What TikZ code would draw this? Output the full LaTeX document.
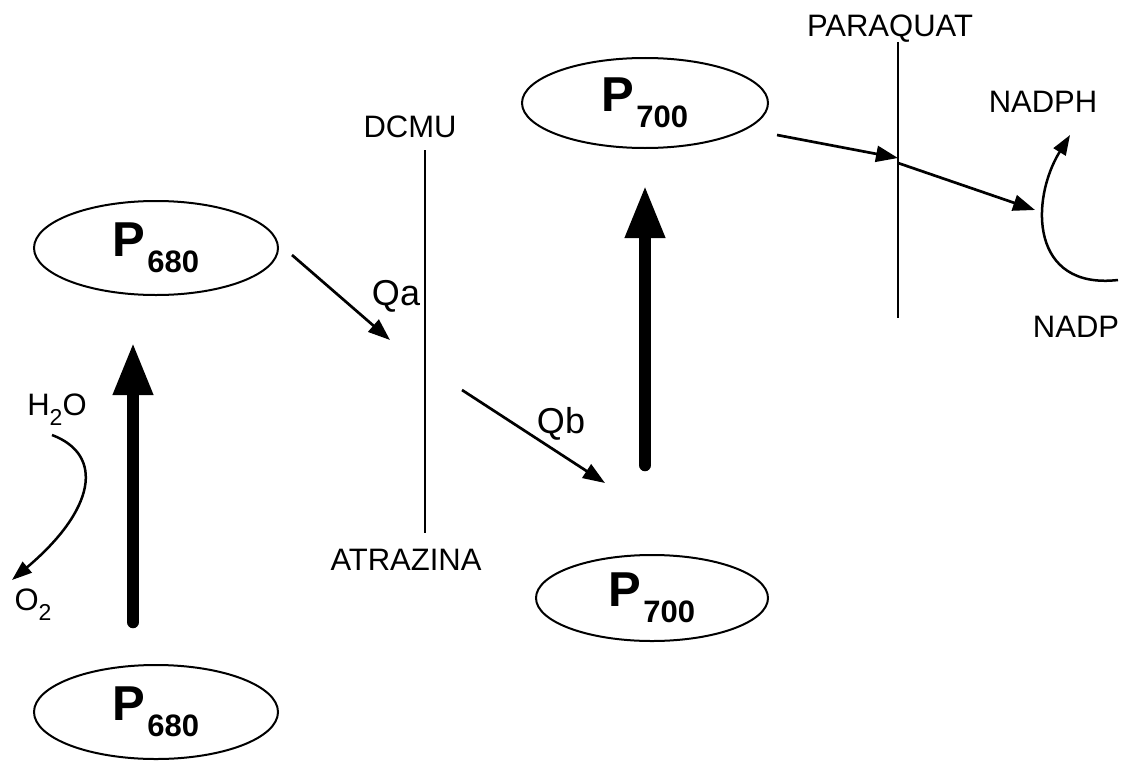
\documentclass[tikz,border=0pt]{standalone}
\usepackage{fontspec}
\setmainfont{Liberation Sans}
\usetikzlibrary{arrows.meta,shapes.geometric}

% pigment label: bold P with a lowered number
\newcommand\pigment[1]{{\fontsize{49}{49}\selectfont\bfseries P}\kern2pt\raisebox{-16pt}{\fontsize{31}{31}\selectfont\bfseries #1}}

\begin{document}
\begin{tikzpicture}[x=1pt,y=-1pt,
  pigbox/.style={draw,line width=2pt,ellipse,inner sep=0pt},
  lbl/.style={anchor=base,inner sep=0pt,font=\fontsize{31}{31}\selectfont},
  qlbl/.style={anchor=base,inner sep=0pt,font=\fontsize{36}{36}\selectfont},
  thinarrow/.style={line width=2.7pt,-{Triangle[length=22pt,width=16pt]}},
  thinline/.style={line width=2.3pt},
  bigarrow/.style={line width=12.5pt,line cap=round,-{Triangle[length=53pt,width=37pt]}},
  curvearrow/.style={line width=2.5pt,-{Triangle[length=20pt,width=14pt]}}]
\useasboundingbox (0,0) rectangle (1123,760);

% reaction centres
\node[pigbox,minimum width=244pt,minimum height=94pt] (p680a) at (156,248) {\pigment{680}};
\node[pigbox,minimum width=244pt,minimum height=94pt] (p680b) at (156,712) {\pigment{680}};
\node[pigbox,minimum width=246pt,minimum height=90pt] (p700a) at (645,103) {\pigment{700}};
\node[pigbox,minimum width=232pt,minimum height=86pt] (p700b) at (652,598) {\pigment{700}};

% labels
\node[lbl] (h2o) at (57,415) {H\raisebox{-10pt}{\fontsize{23}{23}\selectfont 2}O};
\node[lbl] (o2) at (33,610) {O\raisebox{-10pt}{\fontsize{23}{23}\selectfont 2}};
\node[lbl] (dcmu) at (410,137) {DCMU};
\node[lbl] (atrazina) at (406,570) {ATRAZINA};
\node[lbl] (paraquat) at (890,37) {PARAQUAT};
\node[lbl] (nadph) at (1043,112) {NADPH};
\node[lbl] (nadp) at (1076,337) {NADP};
\node[qlbl] (qa) at (396,305) {Qa};
\node[qlbl] (qb) at (561,433) {Qb};

% inhibitor bars
\coordinate (dtop) at (425,150);
\coordinate (dbot) at (425,533);
\coordinate (ptop) at (898,42);
\coordinate (pbot) at (898,318);
\draw[thinline] (dtop) -- (dbot);
\draw[thinline] (ptop) -- (pbot);

% light-driven excitation
\coordinate (e1s) at (133,622);
\coordinate (e1t) at (133,342);
\coordinate (e2s) at (645,465);
\coordinate (e2t) at (645,185);
\draw[bigarrow] (e1s) -- (e1t);
\draw[bigarrow] (e2s) -- (e2t);

% electron transfer
\coordinate (a1s) at (292,255);
\coordinate (a1t) at (390,340);
\coordinate (a2s) at (462,390);
\coordinate (a2t) at (605,483);
\coordinate (a3s) at (777,135);
\coordinate (a3t) at (898,158);
\coordinate (a4s) at (898,163);
\coordinate (a4t) at (1035,210);
\draw[thinarrow] (a1s) -- (a1t);
\draw[thinarrow] (a2s) -- (a2t);
\draw[thinarrow] (a3s) -- (a3t);
\draw[thinarrow] (a4s) -- (a4t);

% water oxidation and NADP reduction
\coordinate (ws) at (52,435);
\coordinate (wt) at (12,580);
\draw[curvearrow] (ws) .. controls (105,455) and (95,510) .. (wt);
\coordinate (ns) at (1118,280);
\coordinate (nt) at (1070,135);
\draw[curvearrow] (ns) .. controls (1030,290) and (1030,200) .. (nt);
\end{tikzpicture}
\end{document}
